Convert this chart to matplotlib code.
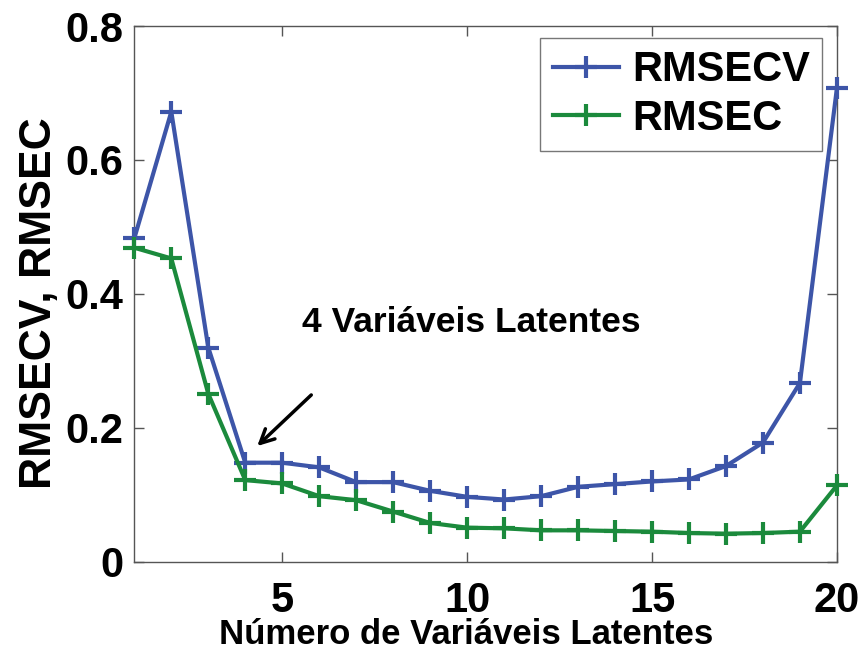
import matplotlib.pyplot as plt

plt.rcParams['font.family'] = ['Liberation Sans', 'DejaVu Sans']

n_vl = list(range(1, 21))
rmsecv = [0.483, 0.672, 0.320, 0.148, 0.148, 0.141, 0.119, 0.119, 0.106, 0.097,
          0.093, 0.098, 0.112, 0.116, 0.120, 0.123, 0.143, 0.178, 0.267, 0.707]
rmsec = [0.469, 0.453, 0.251, 0.122, 0.117, 0.098, 0.092, 0.075, 0.058, 0.051,
         0.050, 0.047, 0.047, 0.046, 0.045, 0.043, 0.042, 0.043, 0.045, 0.114]

azul = '#3d55a8'
verde = '#1b8a3c'

fig = plt.figure(figsize=(8.61, 6.51), dpi=100)
ax = fig.add_axes([0.156, 0.137, 0.816, 0.823])

ax.plot(n_vl, rmsecv, color=azul, lw=3, marker='+', ms=16, mew=3,
        label='RMSECV', clip_on=False, zorder=3)
ax.plot(n_vl, rmsec, color=verde, lw=3, marker='+', ms=16, mew=3,
        label='RMSEC', clip_on=False, zorder=3)

ax.set_xlim(1, 20)
ax.set_ylim(0, 0.8)
ax.set_xticks([5, 10, 15, 20])
ax.set_yticks([0, 0.2, 0.4, 0.6, 0.8])
ax.set_yticklabels(['0', '0.2', '0.4', '0.6', '0.8'])
ax.tick_params(direction='in', length=7, width=1, color='#555555',
               top=True, right=True, labelsize=30)
ax.tick_params(axis='x', pad=14)
ax.tick_params(axis='y', pad=8)
for lbl in ax.get_xticklabels() + ax.get_yticklabels():
    lbl.set_fontweight('bold')
for s in ax.spines.values():
    s.set_color('#555555')
    s.set_linewidth(1)

ax.set_xlabel('Número de Variáveis Latentes', fontsize=25, fontweight='bold', labelpad=-2)
ax.xaxis.label.set_x(0.472)
ax.set_ylabel('RMSECV, RMSEC', fontsize=32, fontweight='bold', labelpad=4)
ax.yaxis.label.set_y(0.483)

ax.annotate('', xy=(4.27, 0.170), xytext=(5.84, 0.252),
            arrowprops=dict(arrowstyle='->', color='black', lw=2.5, mutation_scale=25))
ax.text(10.1, 0.358, '4 Variáveis Latentes', fontsize=25.5, fontweight='bold',
        ha='center', va='center')

leg = ax.legend(loc='upper right', bbox_to_anchor=(0.979, 0.978),
                prop={'weight': 'bold', 'size': 30},
                frameon=True, fancybox=False, handlelength=1.6, handletextpad=0.3,
                borderpad=0.3, labelspacing=0.2, borderaxespad=0)
leg.get_frame().set_edgecolor('#555555')
leg.get_frame().set_linewidth(1)

fig.savefig('out.png', dpi=100)
